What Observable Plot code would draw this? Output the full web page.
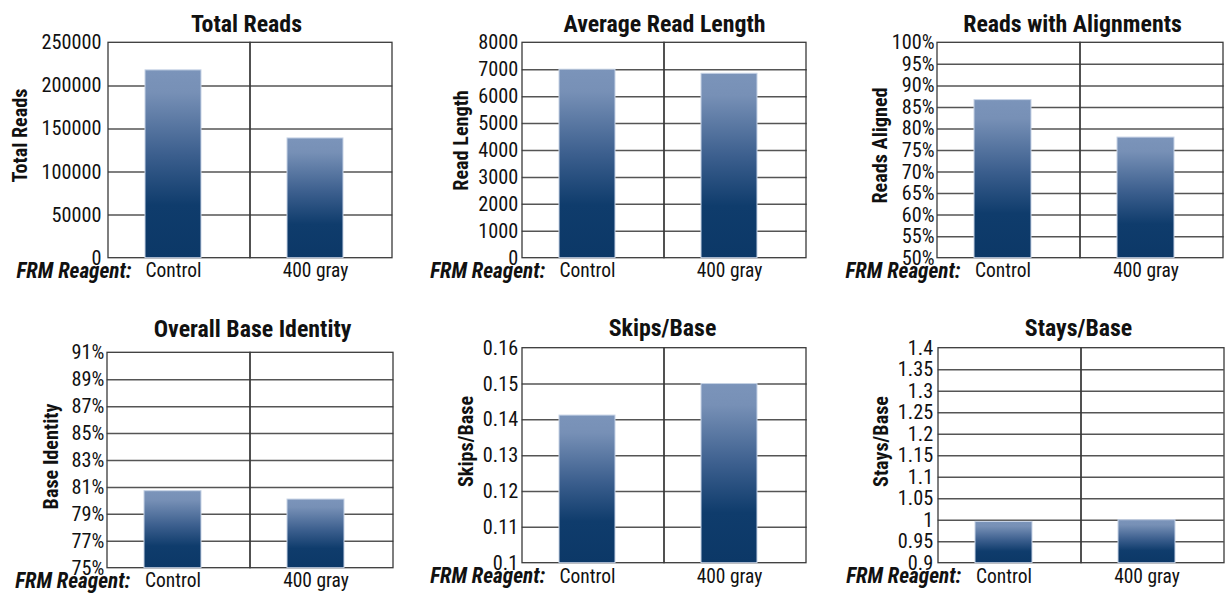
<!DOCTYPE html>
<html><head><meta charset="utf-8">
<script src="https://cdn.jsdelivr.net/npm/d3@7"></script>
<script src="https://cdn.jsdelivr.net/npm/@observablehq/plot@0.6"></script>
<style>
html,body{margin:0;padding:0;background:#fff;}
#root{position:relative;width:1227px;height:596px;overflow:hidden;background:#fff;}
#root svg.p{position:absolute;left:0;top:0;}
#meas{position:absolute;left:-9999px;top:-9999px;white-space:nowrap;visibility:hidden;}
</style></head><body>
<div id="root"></div>
<span id="meas"></span>
<script>
// ---------- data ----------
const categories = ["Control", "400 gray"];
const titles = ["Total Reads", "Average Read Length", "Reads with Alignments", "Overall Base Identity", "Skips/Base", "Stays/Base"];
const yLabels = ["Total Reads", "Read Length", "Reads Aligned", "Base Identity", "Skips/Base", "Stays/Base"];
const xPrefix = "FRM Reagent:";

const totalReads = [218000, 139000];
const avgReadLength = [7000, 6850];
const readsAligned = [0.867, 0.780];
const baseIdentity = [0.8072, 0.801];
const skipsPerBase = [0.1412, 0.150];
const staysPerBase = [0.996, 1.000];

const totalReadsTicks = [0, 50000, 100000, 150000, 200000, 250000];
const totalReadsTickLabels = ["0", "50000", "100000", "150000", "200000", "250000"];
const readLengthTicks = [0, 1000, 2000, 3000, 4000, 5000, 6000, 7000, 8000];
const readLengthTickLabels = ["0", "1000", "2000", "3000", "4000", "5000", "6000", "7000", "8000"];
const alignedTicks = [0.50, 0.55, 0.60, 0.65, 0.70, 0.75, 0.80, 0.85, 0.90, 0.95, 1.00];
const alignedTickLabels = ["50%", "55%", "60%", "65%", "70%", "75%", "80%", "85%", "90%", "95%", "100%"];
const identityTicks = [0.75, 0.77, 0.79, 0.81, 0.83, 0.85, 0.87, 0.89, 0.91];
const identityTickLabels = ["75%", "77%", "79%", "81%", "83%", "85%", "87%", "89%", "91%"];
const skipsTicks = [0.10, 0.11, 0.12, 0.13, 0.14, 0.15, 0.16];
const skipsTickLabels = ["0.1", "0.11", "0.12", "0.13", "0.14", "0.15", "0.16"];
const staysTicks = [0.90, 0.95, 1.00, 1.05, 1.10, 1.15, 1.20, 1.25, 1.30, 1.35, 1.40];
const staysTickLabels = ["0.9", "0.95", "1", "1.05", "1.1", "1.15", "1.2", "1.25", "1.3", "1.35", "1.4"];

const seriesValues = [totalReads, avgReadLength, readsAligned, baseIdentity, skipsPerBase, staysPerBase];
const tickValues = [totalReadsTicks, readLengthTicks, alignedTicks, identityTicks, skipsTicks, staysTicks];
const tickLabels = [totalReadsTickLabels, readLengthTickLabels, alignedTickLabels, identityTickLabels, skipsTickLabels, staysTickLabels];

// ---------- layout (pixels) ----------
const W = 1227, H = 596;
const layout = [
  {fx0:108,   fx1:392.3,  fy0:42.3,  fy1:257.7, titleX:246,  titleY:31.5, ylx:20,  yly:135, labY:270.5, pad:7},
  {fx0:521.7, fx1:806.7,  fy0:42.3,  fy1:257.7, titleX:664,  titleY:31.5, ylx:461, yly:140, labY:270.5, pad:4},
  {fx0:937,   fx1:1223.7, fy0:42.3,  fy1:257.7, titleX:1072, titleY:31.5, ylx:880, yly:145, labY:270.5, pad:3},
  {fx0:106.7, fx1:393.3,  fy0:352.3, fy1:567.7, titleX:252,  titleY:336.5, ylx:51,  yly:456, labY:580.5, pad:3},
  {fx0:521.7, fx1:806.7,  fy0:347.7, fy1:562.7, titleX:662,  titleY:335.5, ylx:466, yly:441, labY:576, pad:4},
  {fx0:937.7, fx1:1223.7, fy0:347.7, fy1:562.7, titleX:1078, titleY:335.5, ylx:881, yly:441, labY:576, pad:5}
];

// ---------- font choice & sizing ----------
const meas = document.getElementById("meas");
function measure(text, family, stretch, size, weight = "normal", style = "normal") {
  meas.style.fontFamily = family; meas.style.fontStretch = stretch;
  meas.style.fontSize = size + "px"; meas.style.fontWeight = weight; meas.style.fontStyle = style;
  meas.textContent = text;
  return meas.getBoundingClientRect().width;
}
const probe = "Total Reads 250000 Control gray WMmil";
function exists(f) {
  return ["monospace", "serif"].some(fb => Math.abs(measure(probe, fb, "normal", 40) - measure(probe, `"${f}", ${fb}`, "normal", 40)) > 0.5);
}
let FAMILY = "DejaVu Sans Condensed", STRETCH = "normal";
const cands = [
  ["Roboto Condensed", "normal"], ["Liberation Sans Narrow", "normal"], ["Open Sans Condensed", "normal"],
  ["Noto Sans", "semi-condensed"], ["DejaVu Sans Condensed", "normal"]
];
for (const [f, s] of cands) {
  if (!exists(f)) continue;
  if (s !== "normal") {
    const a = measure(probe, `"${f}"`, "normal", 40), b = measure(probe, `"${f}"`, s, 40);
    if (b > a * 0.96) continue;
  }
  FAMILY = f; STRETCH = s; break;
}
const FF = `"${FAMILY}", "DejaVu Sans Condensed", sans-serif`;
function fit(text, nominal, targetW, weight, style) {
  const w = measure(text, FF, STRETCH, nominal, weight, style);
  const s = nominal * targetW / w;
  return Math.max(nominal * 0.6, Math.min(nominal * 1.12, s));
}
const tickSize = fit("250000", 21, 60, "normal", "normal");
const catSize = fit("Control", 21, 56, "normal", "normal");
const prefixSize = fit(xPrefix, 21, 115, "bold", "italic");
const titleSize = fit("Total Reads", 24, 111, "bold", "normal");
const ylabSize = fit("Total Reads", 20, 94, "bold", "normal");
meas.textContent = "";

// gradient defs
const root = document.getElementById("root");
root.insertAdjacentHTML("beforeend", `<svg width="0" height="0" style="position:absolute"><defs>
<linearGradient id="barGrad" x1="0" y1="0" x2="0" y2="1">
<stop offset="0" stop-color="#7b94ba"/><stop offset="0.12" stop-color="#7790b6"/>
<stop offset="0.45" stop-color="#3c5f8e"/><stop offset="0.72" stop-color="#0f3c6c"/>
<stop offset="1" stop-color="#0c3867"/></linearGradient></defs></svg>`);

const GRID = "#555555";
const FRAME = "#3a3a3a";

for (let k = 0; k < 6; k++) {
  const L = layout[k];
  const ticks = tickValues[k];
  const fmt = new Map(ticks.map((t, i) => [t, tickLabels[k][i]]));
  const ymin = ticks[0], ymax = ticks[ticks.length - 1];
  const rows = categories.map((c, i) => ({cat: c, value: seriesValues[k][i]}));
  const cx = (L.fx0 + L.fx1) / 2, cy = (L.fy0 + L.fy1) / 2;
  const chart = Plot.plot({
    width: W, height: H,
    marginLeft: L.fx0, marginRight: W - L.fx1, marginTop: L.fy0, marginBottom: H - L.fy1,
    style: {fontFamily: FF, fontStretch: STRETCH, fontSize: tickSize + "px", background: "transparent", overflow: "visible", color: "#111"},
    x: {type: "band", domain: categories, padding: 0, axis: null},
    y: {domain: [ymin, ymax], ticks: ticks, tickFormat: d => fmt.get(d), tickSize: 0, tickPadding: L.pad, label: null},
    marks: [
      Plot.ruleY(ticks.slice(1, -1), {stroke: GRID, strokeWidth: 1.5}),
      Plot.barY(categories, {x: d => d, y1: ymin, y2: ymax, fill: "none", stroke: FRAME, strokeWidth: 1.3}),
      Plot.barY(rows, {x: "cat", y1: ymin, y2: "value", fill: "url(#barGrad)", stroke: "#c7d3e6", strokeWidth: 1, insetLeft: 37, insetRight: 49}),
      Plot.text(categories, {x: d => d, text: d => d, frameAnchor: "bottom", dx: -6, dy: L.labY - L.fy1, lineAnchor: "middle", fontSize: catSize, fill: "#111"}),
      Plot.text([xPrefix], {text: d => d, frameAnchor: "bottom-left", textAnchor: "end", dx: 23, dy: L.labY - L.fy1, lineAnchor: "middle", fontSize: prefixSize, fontWeight: "bold", fontStyle: "italic", fill: "#111"}),
      Plot.text([titles[k]], {text: d => d, frameAnchor: "top", dx: L.titleX - cx, dy: L.titleY - L.fy0, lineAnchor: "bottom", fontSize: titleSize, fontWeight: "bold", fill: "#111"}),
      Plot.text([yLabels[k]], {text: d => d, frameAnchor: "left", rotate: -90, dx: L.ylx - L.fx0, dy: L.yly - cy, lineAnchor: "middle", textAnchor: "middle", fontSize: ylabSize, fontWeight: "bold", fill: "#111"})
    ]
  });
  chart.classList.add("p");
  root.appendChild(chart);
}
</script>
</body></html>
